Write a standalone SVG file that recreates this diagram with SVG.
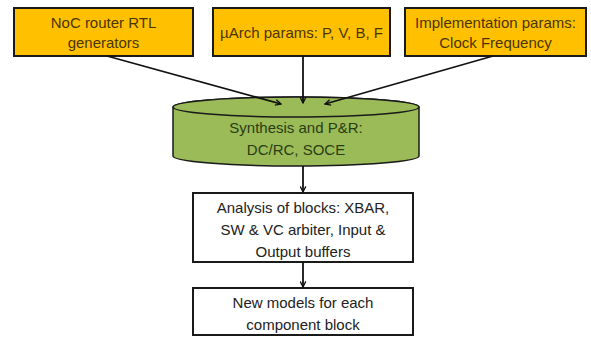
<svg xmlns="http://www.w3.org/2000/svg" width="591" height="343" viewBox="0 0 591 343">
<style>
.ob{fill:#FFC000;stroke:#1a1a1a;stroke-width:2}
.wb{fill:#fff;stroke:#1a1a1a;stroke-width:2}
.cy{fill:#9BBB59;stroke:#1a1a1a;stroke-width:1.5}
text{font-family:"Liberation Sans",Arial,sans-serif;font-size:15px;text-anchor:middle}
.ot{fill:#4a3500}
.gt{fill:#2a3d12}
.bt{fill:#222}
.c{stroke:#111;stroke-width:1.8;fill:none;marker-end:url(#ah)}
</style>
<defs>
<marker id="ah" viewBox="0 0 10 10" refX="9" refY="5" markerWidth="7" markerHeight="7" markerUnits="userSpaceOnUse" orient="auto">
<path d="M1,1 L9,5 L1,9" fill="none" stroke="#111" stroke-width="1.8"/>
</marker>
</defs>
<rect width="591" height="343" fill="#fff"/>
<g id="n1"><rect class="ob" x="14" y="8" width="179" height="48"/><text class="ot" x="103.5" y="28">NoC router RTL</text><text class="ot" x="103.5" y="48">generators</text></g>
<g id="n2"><rect class="ob" x="213" y="8" width="177" height="48"/><text class="ot" x="301.5" y="38">µArch params: P, V, B, F</text></g>
<g id="n3"><rect class="ob" x="405" y="8" width="181" height="48"/><text class="ot" x="495.5" y="28">Implementation params:</text><text class="ot" x="495.5" y="48">Clock Frequency</text></g>
<g id="n4"><path class="cy" d="M173,107 L173,156 A123,10 0 0 0 419,156 L419,107 A123,10 0 0 0 173,107 Z"/><ellipse class="cy" cx="296" cy="107" rx="123" ry="10"/><text class="gt" x="296" y="133">Synthesis and P&amp;R:</text><text class="gt" x="296" y="155">DC/RC, SOCE</text></g>
<g id="n5"><rect class="wb" x="193" y="193" width="220" height="69"/><text class="bt" x="303" y="213">Analysis of blocks: XBAR,</text><text class="bt" x="303" y="235">SW &amp; VC arbiter, Input &amp;</text><text class="bt" x="303" y="257">Output buffers</text></g>
<g id="n6"><rect class="wb" x="193" y="288" width="220" height="47"/><text class="bt" x="303" y="308">New models for each</text><text class="bt" x="303" y="330">component block</text></g>
<g id="connectors">
<line class="c" x1="107" y1="56" x2="281" y2="104"/>
<line class="c" x1="303" y1="56" x2="303" y2="103"/>
<line class="c" x1="493" y1="56" x2="325" y2="104"/>
<line class="c" x1="303" y1="166" x2="303" y2="192"/>
<line class="c" x1="303" y1="262" x2="303" y2="287"/>
</g>
</svg>
